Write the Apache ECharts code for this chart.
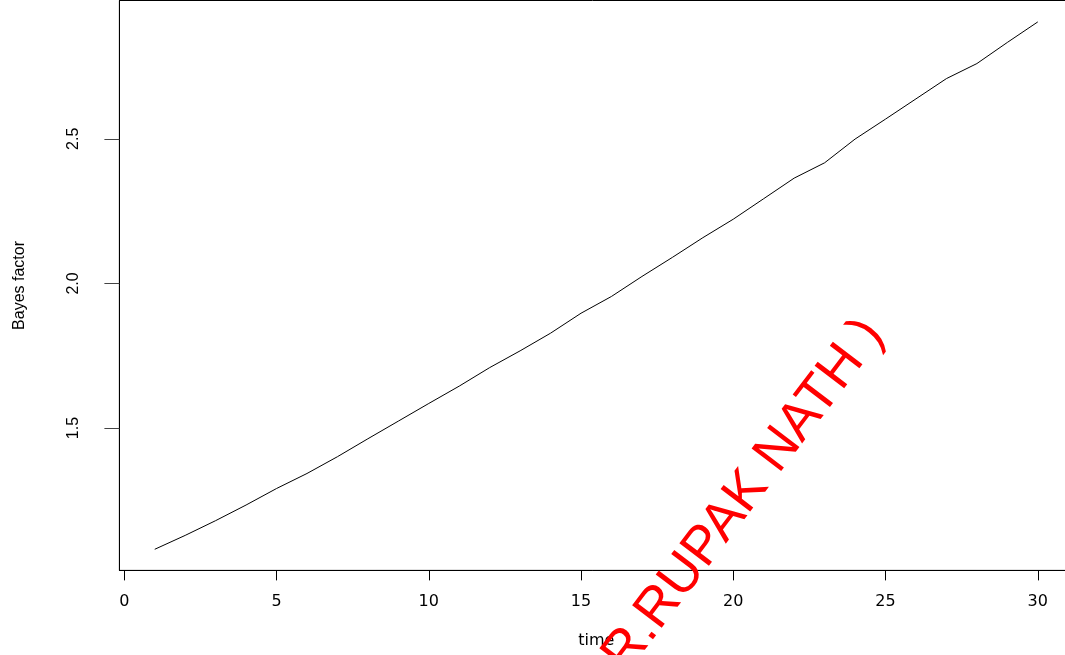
<!DOCTYPE html>
<html>
<head>
<meta charset="utf-8">
<script src="https://cdn.jsdelivr.net/npm/echarts@6/dist/echarts.min.js"></script>
<style>
html,body{margin:0;padding:0;background:#fff;}
#chart{width:1065px;height:655px;}
</style>
</head>
<body>
<div id="chart"></div>
<script>
// ---- data ----
var timeValues = [1,2,3,4,5,6,7,8,9,10,11,12,13,14,15,16,17,18,19,20,21,22,23,24,25,26,27,28,29,30];
var bayesFactor = [1.081,1.129,1.180,1.234,1.291,1.343,1.401,1.463,1.524,1.585,1.645,1.709,1.767,1.828,1.897,1.955,2.024,2.090,2.158,2.222,2.293,2.364,2.417,2.499,2.568,2.638,2.708,2.760,2.833,2.904];
var xTicks = [0,5,10,15,20,25,30];
var yTicks = [1.5,2.0,2.5];
var xTitle = 'time';
var yTitle = 'Bayes factor';
var watermark = '( DR.RUPAK NATH )';

var points = timeValues.map(function(t,i){return [t, bayesFactor[i]];});

var chart = echarts.init(document.getElementById('chart'), null, {renderer:'canvas'});
chart.setOption({
  animation:false,
  backgroundColor:'#ffffff',
  grid:{left:119.4, top:0.5, width:953.7, height:569.9, show:true, borderColor:'#000', borderWidth:1,
        backgroundColor:'transparent', containLabel:false, outerBoundsMode:'none'},
  xAxis:{
    type:'value', min:-0.16, max:31.16,
    name:xTitle, nameLocation:'middle', nameGap:62,
    nameTextStyle:{fontFamily:'DejaVu Sans', fontSize:16, color:'#000'},
    axisLine:{show:true, onZero:false, lineStyle:{color:'#000', width:1}},
    axisTick:{show:true, length:10, customValues:xTicks, lineStyle:{color:'#000'}},
    axisLabel:{customValues:xTicks, margin:23, fontFamily:'DejaVu Sans', fontSize:16, color:'#000',
      formatter:function(v){return String(Math.round(v));}},
    splitLine:{show:false}
  },
  yAxis:{
    type:'value', min:1.008, max:2.978,
    name:yTitle, nameLocation:'middle', nameGap:92,
    nameTextStyle:{fontFamily:'Liberation Sans', fontSize:16, color:'#000'},
    axisLine:{show:true, onZero:false, lineStyle:{color:'#000', width:1}},
    axisTick:{show:true, length:15, customValues:yTicks, lineStyle:{color:'#444'}},
    axisLabel:{customValues:yTicks, rotate:90, margin:38, fontFamily:'Liberation Sans', fontSize:16, color:'#000',
      formatter:function(v){return v.toFixed(1);}},
    splitLine:{show:false}
  },
  series:[{
    type:'line', data:points, showSymbol:false, symbol:'none',
    lineStyle:{color:'#000', width:1}, smooth:false, z:3
  }],
  graphic:[{
    type:'text', x:722, y:524, rotation:0.92, z:100, silent:true,
    style:{text:watermark, x:0, y:0, fill:'#ff0000', font:'54px "Liberation Sans"', align:'center', verticalAlign:'middle'}
  }]
});
</script>
</body>
</html>
